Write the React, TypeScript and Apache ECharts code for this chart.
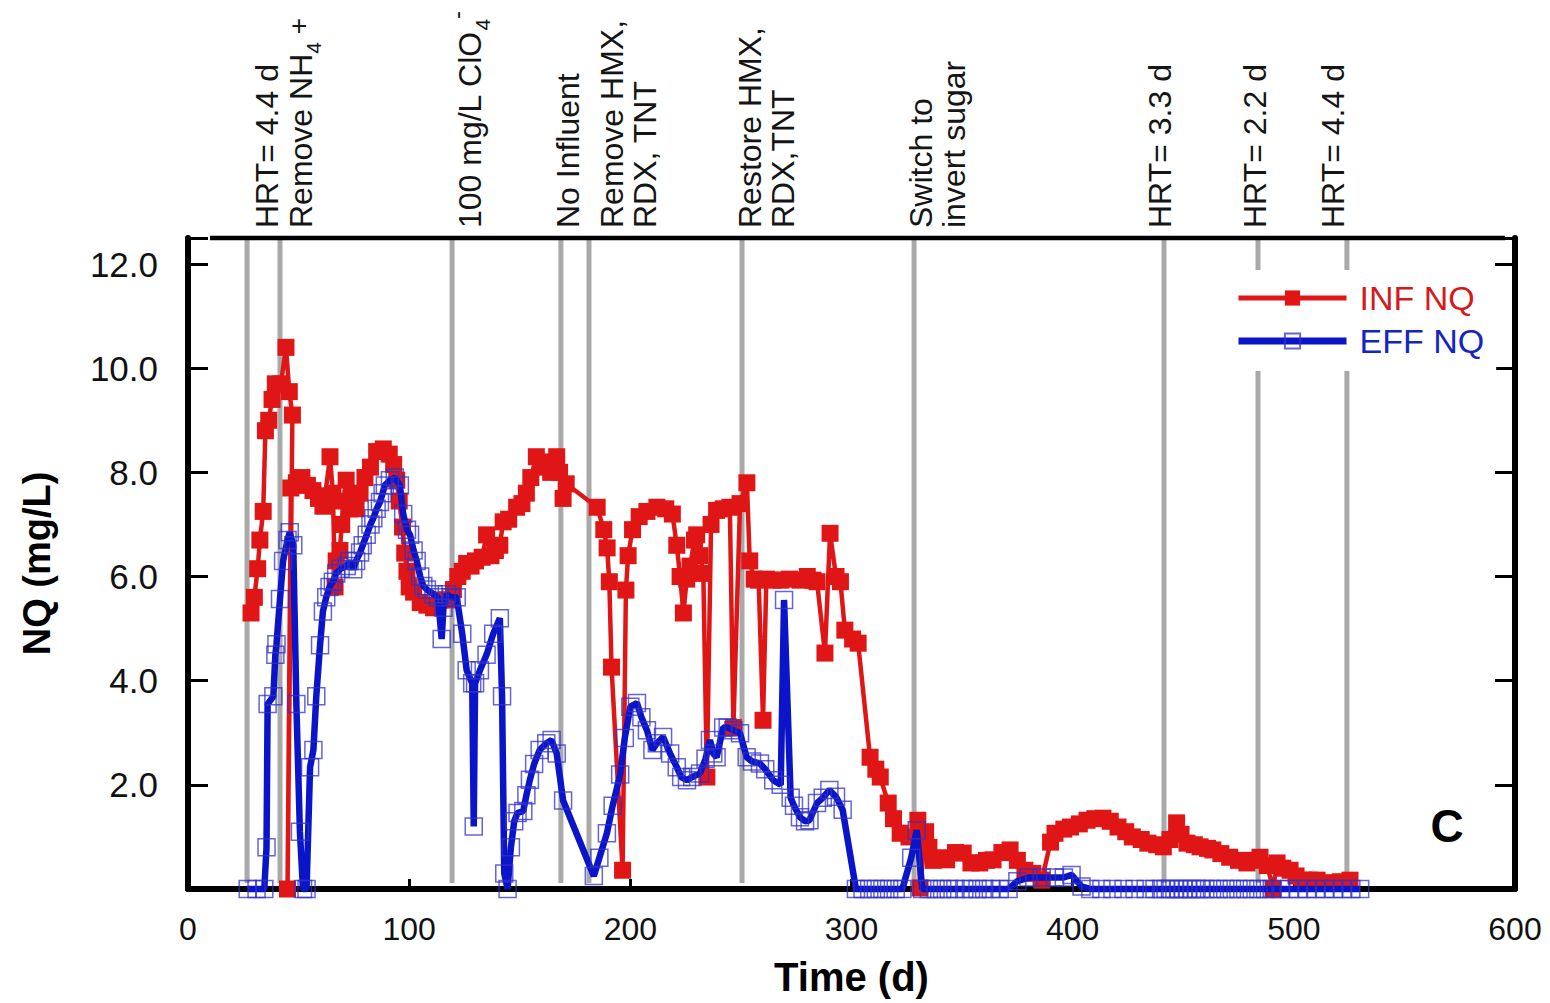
import React, { useEffect, useRef } from 'react';
import * as echarts from 'echarts';

// ---------- data ----------
const xTicks = [0, 100, 200, 300, 400, 500, 600];
const yTicks = [2, 4, 6, 8, 10, 12];

// Influent NQ (mg/L) : [day, value]
const infNQ: [number, number][] = [
  [28.5, 5.3], [30, 5.6], [31.5, 6.15], [32.5, 6.7], [34, 7.25], [35, 8.8], [36.5, 9.0], [38, 9.4], [39.5, 9.7],
  [42, 9.7], [44.3, 10.4], [45.8, 9.55], [47.2, 9.1], [45, 0], [46.5, 7.7], [49, 7.8], [51.5, 7.9], [54, 7.75],
  [56.5, 7.65], [59, 7.5], [61, 7.35], [62, 7.55], [64.2, 8.3], [65.5, 7.6], [66.5, 5.8], [67, 6.3], [68.7, 6.5],
  [69.5, 7.0], [70.2, 7.45], [71.5, 7.85], [73, 7.3], [74.5, 7.55], [76, 7.3], [77.8, 7.6], [80, 7.9], [82.5, 8.1],
  [85.3, 8.4], [88.3, 8.45], [91, 8.35], [93, 8.15], [94.4, 7.85], [95.5, 7.45], [97, 6.95], [98, 6.45], [99, 6.1],
  [100, 5.8], [102, 5.7], [105, 5.5], [108, 5.45], [111, 5.4], [114, 5.55], [117, 5.55], [120, 5.75], [122, 6.0],
  [124, 6.1], [126, 6.25], [128, 6.2], [130, 6.3], [133, 6.37], [135, 6.8], [137, 6.4], [139, 6.5], [141, 6.6],
  [142.5, 7.05], [145, 7.1], [148.6, 7.33], [151, 7.4], [153, 7.6], [155, 7.9], [157.5, 8.3], [160, 8.1], [162, 8.2],
  [164, 8.0], [166.7, 8.3], [168, 8.0], [169.6, 7.5], [171, 7.78], [185, 7.33], [188, 6.9], [189.5, 6.55],
  [190.5, 5.9], [191.5, 4.26], [196.5, 0.36], [198, 5.74], [199, 6.4], [201, 6.9], [204, 7.15], [207.5, 7.25],
  [212, 7.33], [216, 7.3], [219, 7.2], [221, 6.6], [222.5, 6.0], [224, 5.3], [225.5, 5.95], [227, 6.2], [229, 6.7],
  [230, 6.8], [231.5, 6.4], [233, 6.06], [234.6, 2.15], [236.5, 7.0], [239, 7.27], [242, 7.3], [245, 7.33],
  [246.6, 3.1], [249.6, 7.4], [252.7, 7.8], [254, 6.3], [256, 5.95], [258, 5.93], [260, 3.24], [261.5, 5.95],
  [264.5, 5.93], [268, 5.93], [272, 5.95], [276.7, 5.93], [280, 6.0], [282.6, 5.93], [284.4, 5.9], [288, 4.53],
  [290.3, 6.83], [293, 6.0], [295, 5.9], [297, 4.97], [300.5, 4.8], [303, 4.72], [308.4, 2.53], [311, 2.3],
  [313, 2.15], [316.6, 1.65], [319, 1.35], [322, 1.07], [326, 1.0], [330, 1.32], [331, 0.02], [333.5, 1.1],
  [335, 0.8], [337, 0.55], [340, 0.6], [343, 0.56], [347, 0.7], [350.5, 0.69], [354, 0.5], [358, 0.5], [361, 0.55],
  [364, 0.56], [368, 0.7], [371.7, 0.75], [375, 0.55], [378.4, 0.36], [382, 0.3], [386, 0.17], [390, 0.9],
  [392, 1.07], [396, 1.15], [399, 1.19], [403, 1.25], [406.5, 1.32], [410, 1.35], [413.7, 1.36], [417, 1.3],
  [420.5, 1.19], [424, 1.1], [427, 1.0], [431, 0.95], [434, 0.88], [438, 0.85], [441, 0.81], [444, 0.95],
  [447, 1.27], [449, 1.05], [451.7, 0.88], [455, 0.85], [457.6, 0.81], [461, 0.78], [463.4, 0.75], [467, 0.68],
  [471, 0.61], [475, 0.55], [478.8, 0.5], [482, 0.55], [484.7, 0.61], [488, 0.45], [490.6, 0.0], [492.4, 0.5],
  [495, 0.4], [498.3, 0.36], [501, 0.25], [504, 0.17], [507, 0.17], [510.5, 0.17], [514, 0.12], [517.7, 0.11],
  [521, 0.14], [525.4, 0.17],
];

// Effluent NQ (mg/L) : [day, value]
const effNQ: [number, number][] = [
  [27, 0], [31, 0], [34.5, 0], [35.5, 0.8], [36, 3.55], [38.6, 3.7], [39.5, 4.5], [40, 4.7], [41.6, 5.57], [43, 6.3],
  [45, 6.7], [46, 6.85], [47.6, 6.6], [49, 3.55], [50.6, 1.1], [52, 0], [53.6, 0], [55.2, 2.34], [56.7, 2.67],
  [58, 3.7], [59.7, 4.68], [61, 5.33], [62.5, 5.6], [64, 5.8], [65.5, 5.9], [67, 6.06], [69, 6.15], [71.8, 6.2],
  [73, 6.3], [74.7, 6.14], [76, 6.3], [77.8, 6.46], [79, 6.6], [80.8, 6.8], [82.5, 7.0], [83.8, 7.12], [85.3, 7.3],
  [86.8, 7.43], [88, 7.6], [89, 7.75], [91.3, 7.85], [93.5, 7.9], [95.8, 7.75], [97.3, 7.2], [99, 6.9],
  [100.4, 6.8], [102, 6.5], [103.4, 6.3], [105, 6.0], [106.4, 5.82], [108, 5.75], [111, 5.66], [113, 5.6],
  [114.7, 4.8], [115.5, 5.4], [117, 5.66], [119, 5.6], [121.5, 5.6], [124, 4.9], [126, 4.2], [128.5, 3.95],
  [129.2, 1.2], [129.8, 3.95], [132, 4.2], [135, 4.5], [138, 4.9], [141, 5.2], [142, 3.7], [143, 0.3], [144.5, 0],
  [146, 0.8], [147.5, 1.3], [149, 1.46], [151.6, 1.5], [153, 1.8], [154.6, 2.1], [156.5, 2.4], [159, 2.67],
  [162, 2.8], [164.4, 2.86], [166.7, 2.6], [169.6, 1.7], [183.5, 0.25], [186, 0.6], [189.4, 1.07], [192, 1.6],
  [195.4, 2.2], [197.5, 2.9], [200, 3.5], [203, 3.57], [205, 3.3], [207.5, 3.05], [210, 2.67], [212, 2.8],
  [214.8, 2.92], [218, 2.6], [221, 2.34], [223, 2.15], [225.6, 2.09], [228, 2.15], [231.5, 2.22], [234, 2.5],
  [236, 2.86], [237.5, 2.6], [239, 2.53], [242, 3.1], [244, 3.1], [246.6, 3.05], [249.6, 2.99], [252.6, 2.53],
  [255, 2.45], [258.6, 2.41], [261, 2.3], [264.6, 2.09], [268, 2.0], [269.5, 5.55], [272.5, 1.75], [274, 1.6],
  [276.7, 1.38], [279, 1.3], [281, 1.32], [284.4, 1.65], [287, 1.75], [290, 1.9], [293, 1.77], [296, 1.52],
  [302, 0], [305, 0], [308, 0], [311, 0], [314, 0], [317, 0], [320, 0], [323, 0], [327, 0.6], [329.5, 1.13],
  [332, 0], [335, 0], [338, 0], [341, 0], [344, 0], [347, 0], [351, 0], [354, 0], [357, 0], [360, 0], [363, 0],
  [367, 0], [371, 0], [375, 0.15], [380, 0.22], [386, 0.22], [392, 0.22], [396, 0.22], [399.5, 0.27], [404, 0.05],
  [408, 0], [413, 0], [418, 0], [423, 0], [428, 0], [433, 0], [437, 0], [440, 0], [442, 0], [444, 0], [446, 0],
  [448, 0], [450, 0], [452, 0], [454, 0], [456, 0], [458, 0], [460, 0], [463, 0], [466, 0], [469, 0], [472, 0],
  [475, 0], [478, 0], [481, 0], [484, 0], [487, 0], [490, 0], [494, 0], [498, 0], [502, 0], [506, 0], [510, 0],
  [514, 0], [518, 0], [522, 0], [526, 0], [530, 0],
];

// Operational events (day) and their labels
const eventDays = [26.7, 41.6, 119.4, 168.6, 181.3, 250.5, 328.3, 441.3, 483.8, 524];
type Seg = [string, 'n' | 'sub' | 'plus' | 'minus'];
const eventLabels: Seg[][][] = [
  [[['HRT= 4.4 d', 'n']]],
  [[['Remove NH', 'n'], ['4', 'sub'], [' +', 'plus']]],
  [[['100 mg/L ClO', 'n'], ['4', 'sub'], ['-', 'minus']]],
  [[['No Influent', 'n']]],
  [[['Remove HMX,', 'n']], [['RDX, TNT', 'n']]],
  [[['Restore HMX,', 'n']], [['RDX,TNT', 'n']]],
  [[['Switch to', 'n']], [['invert sugar', 'n']]],
  [[['HRT= 3.3 d', 'n']]],
  [[['HRT= 2.2 d', 'n']]],
  [[['HRT= 4.4 d', 'n']]],
];
// layout: pixel offset of each label's first text line from its event line
const labelOffsets = [20, 21, 18, 7, 23, 8, 7, -4, -3, -14];

const seriesNames = ['INF NQ', 'EFF NQ'];

// ---------- style ----------
const FONT = "'Liberation Sans', Arial, Helvetica, sans-serif";
const RED = '#e01616';
const BLUE = '#0a14c8';
const Y_MAX = 12.5;
const GRID = { left: 188, right: 35, top: 238, bottom: 114 };

export default function App() {
  const ref = useRef<HTMLDivElement>(null);

  useEffect(() => {
    const chart = echarts.init(ref.current!, null, { renderer: 'svg' });

    const yAxisBase = {
      type: 'value' as const,
      min: 0,
      max: Y_MAX,
      interval: 2,
      splitLine: { show: false },
      axisLine: { show: true, onZero: false, lineStyle: { color: '#000', width: 6 } },
      axisTick: { show: true, inside: true, length: 20, lineStyle: { color: '#000', width: 3 } },
    };

    chart.setOption({
      animation: false,
      backgroundColor: '#fff',
      grid: { ...GRID, containLabel: false },
      legend: {
        data: [
          { name: seriesNames[0], textStyle: { color: '#d41b1b' }, lineStyle: { width: 5 } },
          { name: seriesNames[1], textStyle: { color: '#1426c0' }, lineStyle: { width: 7 } },
        ],
        orient: 'vertical',
        left: 1225,
        top: 270,
        itemWidth: 108,
        itemHeight: 19,
        itemGap: 7,
        padding: [10, 12, 12, 10],
        backgroundColor: '#fff',
        selectedMode: false,
        textStyle: { fontSize: 34, fontFamily: FONT, lineHeight: 36, padding: [0, 0, 0, 8] },
      },
      xAxis: {
        type: 'value',
        min: 0,
        max: 600,
        interval: 100,
        splitLine: { show: false },
        axisLine: { show: true, onZero: false, lineStyle: { color: '#000', width: 6 } },
        axisTick: { show: true, inside: true, length: 10, lineStyle: { color: '#000', width: 3 } },
        axisLabel: {
          fontSize: 32,
          fontFamily: FONT,
          color: '#111',
          margin: 24,
          formatter: (v: number) => (xTicks.includes(v) ? String(v) : ''),
        },
        name: 'Time (d)',
        nameLocation: 'middle',
        nameGap: 68,
        nameTextStyle: { fontSize: 40, fontWeight: 'bold', fontFamily: FONT, color: '#000' },
      },
      yAxis: [
        {
          ...yAxisBase,
          position: 'left',
          axisLabel: {
            fontSize: 35,
            fontFamily: FONT,
            color: '#111',
            margin: 30,
            formatter: (v: number) => (yTicks.includes(v) ? v.toFixed(1) : ''),
          },
          name: 'NQ (mg/L)',
          nameLocation: 'middle',
          nameRotate: 90,
          nameGap: 132,
          nameTextStyle: { fontSize: 38, fontWeight: 'bold', fontFamily: FONT, color: '#000' },
        },
        {
          ...yAxisBase,
          position: 'right',
          axisLabel: { show: false },
        },
      ],
      series: [
        {
          name: 'events',
          type: 'custom',
          z: 1,
          silent: true,
          data: eventDays.map((d) => [d, 0]),
          encode: { x: 0, y: 1 },
          renderItem: (params: any, api: any) => {
            const d = api.value(0);
            const p1 = api.coord([d, 0]);
            const p2 = api.coord([d, Y_MAX]);
            return {
              type: 'line',
              shape: { x1: p1[0], y1: p1[1] - 6, x2: p2[0], y2: p2[1] },
              style: { stroke: '#a9a9a9', lineWidth: 5 },
            };
          },
        },
        {
          name: seriesNames[0],
          type: 'line',
          data: infNQ,
          z: 3,
          clip: false,
          symbol: 'rect',
          symbolSize: 17,
          lineStyle: { color: RED, width: 4.5 },
          itemStyle: { color: RED },
        },
        {
          name: seriesNames[1],
          type: 'line',
          data: effNQ,
          z: 4,
          clip: false,
          symbol: 'rect',
          symbolSize: 17,
          lineStyle: { color: BLUE, width: 6.5 },
          itemStyle: { color: 'rgba(255,255,255,0)', borderColor: 'rgba(50,50,200,0.75)', borderWidth: 1.5 },
        },
      ],
    });

    // --- annotations (rotated labels above the plot) ---
    const ctx = document.createElement('canvas').getContext('2d')!;
    const measure = (t: string, font: string) => {
      ctx.font = font;
      return ctx.measureText(t).width;
    };
    const segStyle: Record<string, { size: number; dy: number }> = {
      n: { size: 32, dy: 0 },
      sub: { size: 21, dy: 12 },
      plus: { size: 28, dy: -3 },
      minus: { size: 24, dy: -14 },
    };
    const LINE_GAP = 33;
    const TEXT_BASE_Y = 228;

    const annotationGroups = eventDays.map((day, i) => {
      const px = chart.convertToPixel({ xAxisIndex: 0 }, day) as number;
      const children: any[] = [];
      eventLabels[i].forEach((line, li) => {
        let lx = 0;
        line.forEach(([txt, kind]) => {
          const s = segStyle[kind];
          const font = `${s.size}px ${FONT}`;
          children.push({
            type: 'text',
            x: lx,
            y: li * LINE_GAP + s.dy,
            style: {
              text: txt,
              font,
              fill: '#151515',
              textAlign: 'left',
              textVerticalAlign: 'middle',
            },
          });
          lx += measure(txt, font);
        });
      });
      return {
        type: 'group',
        x: px + labelOffsets[i],
        y: TEXT_BASE_Y,
        rotation: Math.PI / 2,
        children,
      };
    });

    chart.setOption({
      graphic: [
        {
          type: 'line',
          shape: { x1: 210, y1: GRID.top, x2: 1505, y2: GRID.top },
          style: { stroke: '#000', lineWidth: 4.5 },
          z: 10,
        },
        {
          type: 'text',
          x: 1447,
          y: 826,
          style: {
            text: 'C',
            font: `bold 46px ${FONT}`,
            fill: '#000',
            textAlign: 'center',
            textVerticalAlign: 'middle',
          },
        },
        ...annotationGroups,
      ],
    });

    return () => chart.dispose();
  }, []);

  return (
    <div
      ref={ref}
      style={{ position: 'fixed', left: 0, top: 0, width: 1550, height: 1003, background: '#fff' }}
    />
  );
}
